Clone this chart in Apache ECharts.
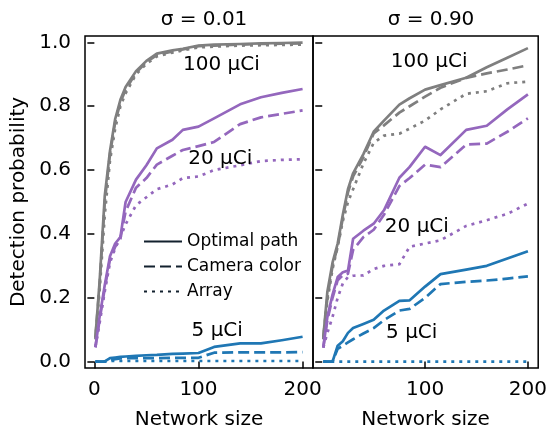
<!DOCTYPE html>
<html><head><meta charset="utf-8">
<script src="https://cdn.jsdelivr.net/npm/echarts@6/dist/echarts.min.js"></script>
<style>html,body{margin:0;padding:0;background:#fff}#c{width:550px;height:435px}</style>
</head><body><div id="c"></div>
<script>
// ---- data ----
const sizes = [1,5,10,15,20,25,30,40,50,60,75,85,100,115,140,160,180,200];
const panelTitles = ['σ = 0.01', 'σ = 0.90'];
const methods = ['Optimal path', 'Camera color', 'Array'];
const activities = ['100 μCi', '20 μCi', '5 μCi'];
const xTicksLeft = [0, 100, 200];
const xTicksRight = [100, 200];
const yTicks = [0, 0.2, 0.4, 0.6, 0.8, 1.0];

// sigma = 0.01
const L100_opt = [0.075,0.25,0.52,0.66,0.76,0.82,0.86,0.91,0.942,0.965,0.975,0.98,0.99,0.993,0.995,0.997,0.998,0.999];
const L100_cam = [0.075,0.24,0.5,0.65,0.75,0.812,0.852,0.905,0.938,0.96,0.972,0.978,0.988,0.99,0.993,0.995,0.996,0.997];
const L100_arr = [0.07,0.22,0.46,0.63,0.73,0.8,0.84,0.9,0.933,0.956,0.968,0.975,0.984,0.987,0.99,0.991,0.992,0.993];
const L20_opt  = [0.045,0.14,0.24,0.33,0.37,0.39,0.5,0.57,0.615,0.668,0.695,0.726,0.736,0.762,0.806,0.828,0.842,0.854];
const L20_cam  = [0.045,0.13,0.23,0.32,0.36,0.385,0.47,0.545,0.575,0.617,0.645,0.663,0.675,0.688,0.744,0.765,0.776,0.787];
const L20_arr  = [0.045,0.12,0.22,0.31,0.355,0.39,0.43,0.49,0.515,0.54,0.555,0.575,0.58,0.6,0.615,0.628,0.632,0.634];
const L5_opt   = [0,0,0.001,0.011,0.013,0.015,0.016,0.018,0.02,0.021,0.024,0.025,0.027,0.046,0.057,0.057,0.067,0.078];
const L5_cam   = [0,0,0,0.006,0.008,0.01,0.011,0.011,0.011,0.011,0.012,0.012,0.012,0.028,0.029,0.029,0.029,0.03];
const L5_arr   = [0,0,0,0.002,0.002,0.002,0.002,0.002,0.002,0.002,0.002,0.002,0.002,0.002,0.002,0.002,0.002,0.002];
// sigma = 0.90
const R100_opt = [0.075,0.22,0.31,0.37,0.46,0.54,0.59,0.65,0.72,0.755,0.805,0.825,0.852,0.866,0.889,0.922,0.952,0.982];
const R100_cam = [0.075,0.2,0.3,0.36,0.45,0.53,0.58,0.64,0.715,0.74,0.78,0.8,0.83,0.858,0.889,0.903,0.915,0.928];
const R100_arr = [0.07,0.19,0.29,0.36,0.44,0.5,0.54,0.62,0.685,0.708,0.714,0.73,0.755,0.79,0.839,0.847,0.872,0.877];
const R20_opt  = [0.044,0.14,0.21,0.265,0.28,0.285,0.385,0.41,0.432,0.474,0.576,0.61,0.673,0.647,0.726,0.739,0.79,0.837];
const R20_cam  = [0.044,0.13,0.2,0.255,0.27,0.275,0.35,0.39,0.413,0.46,0.55,0.575,0.617,0.609,0.68,0.683,0.72,0.762];
const R20_arr  = [0.044,0.09,0.14,0.2,0.245,0.265,0.269,0.27,0.29,0.3,0.305,0.36,0.37,0.38,0.425,0.443,0.463,0.495];
const R5_opt   = [0,0,0,0.05,0.064,0.09,0.105,0.118,0.131,0.16,0.19,0.192,0.235,0.274,0.288,0.3,0.323,0.346];
const R5_cam   = [0,0,0,0.04,0.05,0.06,0.07,0.088,0.105,0.13,0.16,0.165,0.2,0.243,0.25,0.254,0.26,0.267];
const R5_arr   = [0,0,0,0,0,0,0,0,0,0,0,0,0,0,0,0,0,0];

// annotation anchors (data coordinates) per panel: [x, y, text]
const annLeft  = [[122, 0.929, '100 μCi'], [121, 0.635, '20 μCi'], [118, 0.095, '5 μCi']];
const annRight = [[104, 0.938, '100 μCi'], [92, 0.422, '20 μCi'], [87, 0.091, '5 μCi']];

// ---- styles ----
const colors = {'100 μCi': '#7f7f7f', '20 μCi': '#9467bd', '5 μCi': '#1f77b4'};
const dash = {'Optimal path': 'solid', 'Camera color': [11, 5], 'Array': [3, 5]};
const FONT = 'DejaVu Sans';
const LW = 2.7;

const panels = [
  {curves: {'100 μCi': [L100_opt, L100_cam, L100_arr], '20 μCi': [L20_opt, L20_cam, L20_arr], '5 μCi': [L5_opt, L5_cam, L5_arr]}, ann: annLeft},
  {curves: {'100 μCi': [R100_opt, R100_cam, R100_arr], '20 μCi': [R20_opt, R20_cam, R20_arr], '5 μCi': [R5_opt, R5_cam, R5_arr]}, ann: annRight}
];

const series = [];
panels.forEach((p, gi) => {
  activities.forEach(act => {
    methods.forEach((m, mi) => {
      series.push({
        type: 'line', xAxisIndex: gi, yAxisIndex: gi,
        data: sizes.map((s, i) => [s, p.curves[act][mi][i]]),
        showSymbol: false, symbol: 'none', silent: true, animation: false,
        lineStyle: {color: colors[act], width: LW, type: dash[m], cap: 'butt', join: 'round'},
        z: 2
      });
    });
  });
  series.push({
    type: 'scatter', xAxisIndex: gi, yAxisIndex: gi, symbolSize: 0, silent: true, animation: false,
    itemStyle: {opacity: 1, color: '#000'},
    data: p.ann.map(a => ({value: [a[0], a[1]], name: a[2]})),
    label: {show: true, position: 'inside', formatter: d => d.name, color: '#000', opacity: 1, fontFamily: FONT, fontSize: 20,
            align: 'center', verticalAlign: 'middle'},
    z: 5
  });
});
// legend proxies
methods.forEach(m => {
  series.push({
    type: 'line', name: m, xAxisIndex: 0, yAxisIndex: 0, data: [], symbol: 'none', showSymbol: false,
    lineStyle: {color: '#13212e', width: LW, type: dash[m], cap: 'butt'}, itemStyle: {color: '#13212e'}
  });
});

function xAxis(gi, ticks) {
  return {
    type: 'value', gridIndex: gi, min: -9, max: 210,
    name: 'Network size', nameLocation: 'middle', nameGap: 42,
    nameTextStyle: {fontFamily: FONT, fontSize: 20, color: '#000'},
    axisLine: {show: false},
    axisTick: {show: true, length: 7, lineStyle: {color: '#000', width: 1.5}, customValues: ticks},
    axisLabel: {show: true, margin: 12, fontFamily: FONT, fontSize: 20, color: '#000', customValues: ticks},
    splitLine: {show: false}
  };
}
function yAxis(gi, showLabels) {
  return {
    type: 'value', gridIndex: gi, min: -0.02, max: 1.02,
    name: showLabels ? 'Detection probability' : '', nameLocation: 'middle', nameGap: 56,
    nameTextStyle: {fontFamily: FONT, fontSize: 20, color: '#000'},
    axisLine: {show: false},
    axisTick: {show: true, length: 7, lineStyle: {color: '#000', width: 1.5}, customValues: yTicks},
    axisLabel: {show: showLabels, margin: 14, fontFamily: FONT, fontSize: 20, color: '#000', customValues: yTicks,
                formatter: v => v.toFixed(1)},
    splitLine: {show: false}
  };
}

const option = {
  backgroundColor: '#fff',
  animation: false,
  title: [
    {text: panelTitles[0], left: 199, top: 5, textAlign: 'center', textStyle: {fontFamily: FONT, fontSize: 20, fontWeight: 'normal', color: '#000'}},
    {text: panelTitles[1], left: 426, top: 5, textAlign: 'center', textStyle: {fontFamily: FONT, fontSize: 20, fontWeight: 'normal', color: '#000'}}
  ],
  legend: {
    data: methods, orient: 'vertical', left: 138, top: 228, itemWidth: 38, itemHeight: 14, itemGap: 8,
    itemStyle: {opacity: 0, borderWidth: 0},
    textStyle: {fontFamily: FONT, fontSize: 17, color: '#000'}, selectedMode: false
  },
  grid: [
    {left: 85, right: 237, top: 36, bottom: 61, show: true, borderColor: '#000', borderWidth: 1.5, backgroundColor: 'transparent'},
    {left: 313, right: 11, top: 36, bottom: 61, show: true, borderColor: '#000', borderWidth: 1.5, backgroundColor: 'transparent'}
  ],
  xAxis: [xAxis(0, xTicksLeft), xAxis(1, xTicksRight)],
  yAxis: [yAxis(0, true), yAxis(1, false)],
  series: series
};
const chart = echarts.init(document.getElementById('c'), null, {renderer: 'canvas'});
chart.setOption(option);
</script></body></html>
